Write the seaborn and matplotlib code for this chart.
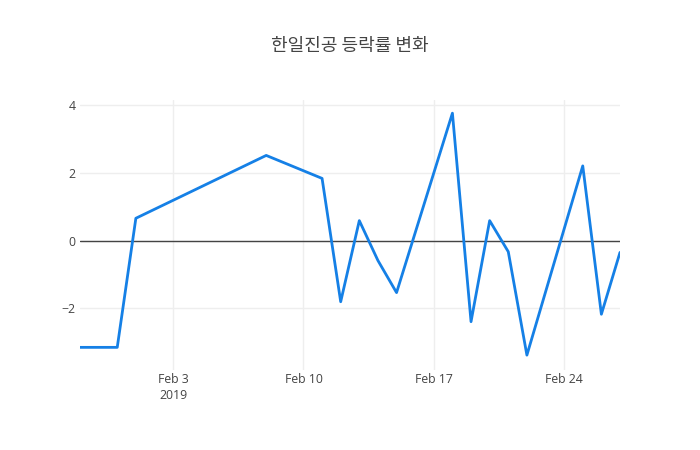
import pandas as pd
import matplotlib.pyplot as plt
import seaborn as sns

dates = ['2019-01-29', '2019-01-31', '2019-02-01', '2019-02-08', '2019-02-11',
         '2019-02-12', '2019-02-13', '2019-02-14', '2019-02-15', '2019-02-18',
         '2019-02-19', '2019-02-20', '2019-02-21', '2019-02-22', '2019-02-25',
         '2019-02-26', '2019-02-27']
change_rate = [-3.16, -3.16, 0.66, 2.52, 1.84, -1.81, 0.59, -0.59, -1.54, 3.77,
               -2.40, 0.59, -0.33, -3.39, 2.21, -2.18, -0.35]
tick_dates = ['2019-02-03', '2019-02-10', '2019-02-17', '2019-02-24']
tick_labels = ['Feb 3\n2019', 'Feb 10', 'Feb 17', 'Feb 24']
title = '한일진공 등락률 변화'

df = pd.DataFrame({'date': pd.to_datetime(dates), 'rate': change_rate})

sns.set_theme(style="white")
plt.rcParams['font.family'] = ['Open Sans', 'Noto Sans CJK KR', 'DejaVu Sans']

fig, ax = plt.subplots(figsize=(7, 4.5), dpi=100)
fig.subplots_adjust(left=80/700, right=620/700, top=1-100/450, bottom=80/450)

ax.axhline(0, color='#444444', linewidth=1, zorder=1)
sns.lineplot(data=df, x='date', y='rate', ax=ax, color='#1580e6', linewidth=2, zorder=2)

ax.set_xlim(df['date'].min(), df['date'].max())
ax.set_ylim(-3.83, 4.16)
ax.set_xticks(pd.to_datetime(tick_dates))
ax.set_xticklabels(tick_labels, linespacing=1.3)
ax.set_yticks([-2, 0, 2, 4])
ax.set_yticklabels(['−2', '0', '2', '4'])
ax.grid(True, color='#eeeeee', linewidth=1)
ax.set_axisbelow(True)
for s in ax.spines.values():
    s.set_visible(False)
ax.tick_params(axis='both', length=0, labelsize=8.8, labelcolor='#444444')
ax.tick_params(axis='x', pad=2)
ax.tick_params(axis='y', pad=3)
ax.set_xlabel('')
ax.set_ylabel('')

fig.text(0.5, 1 - 46/450, title, ha='center', va='center', fontsize=13,
         color='#444444', family=['Noto Sans CJK KR', 'DejaVu Sans'])

fig.savefig('out.png', dpi=100)
